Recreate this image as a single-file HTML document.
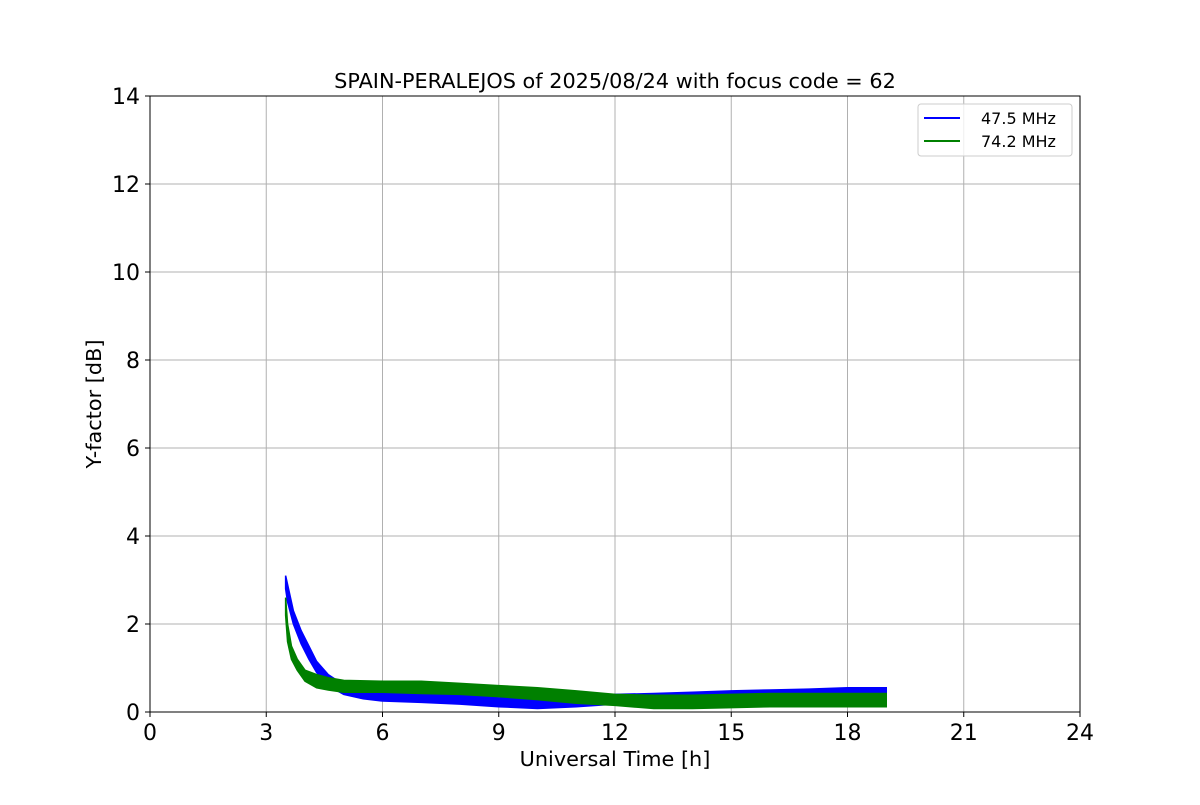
<!DOCTYPE html>
<html><head><meta charset="utf-8"><style>
body{margin:0;background:#fff;}
text{font-family:"DejaVu Sans","Liberation Sans",sans-serif;}
</style></head><body>
<svg id="chart" width="1200" height="800">
<rect width="1200" height="800" fill="#fff"/>
<g id="grid"></g><g id="series"></g><g id="axes"></g>
</svg>
<script>
const xTicks=[0,3,6,9,12,15,18,21,24];
const yTicks=[0,2,4,6,8,10,12,14];
const blueT=[3.5,3.55,3.7,3.9,4.1,4.3,4.6,5,5.5,6,7,8,9,10,11,12,13,14,15,16,17,18,19];
const blueLo=[2.8,2.5,2.0,1.55,1.2,0.9,0.6,0.4,0.3,0.25,0.22,0.18,0.12,0.08,0.12,0.18,0.2,0.22,0.24,0.26,0.28,0.3,0.3];
const blueHi=[3.1,2.9,2.3,1.85,1.5,1.15,0.85,0.62,0.5,0.45,0.42,0.38,0.32,0.3,0.32,0.4,0.42,0.45,0.48,0.5,0.52,0.55,0.55];
const greenT=[3.5,3.55,3.65,3.8,4.0,4.3,4.6,5,6,7,8,9,10,11,12,13,14,15,16,17,18,19];
const greenLo=[2.2,1.6,1.2,0.95,0.7,0.55,0.5,0.45,0.45,0.42,0.4,0.35,0.28,0.2,0.15,0.08,0.08,0.1,0.12,0.12,0.12,0.12];
const greenHi=[2.6,2.0,1.5,1.2,0.95,0.85,0.78,0.72,0.7,0.7,0.65,0.6,0.55,0.48,0.4,0.38,0.38,0.4,0.42,0.42,0.42,0.42];
const X=v=>150+v*930/24, Y=v=>712-v*616/14;
const NS='http://www.w3.org/2000/svg';
function mk(tag,attrs,parent,txt){const e=document.createElementNS(NS,tag);for(const k in attrs)e.setAttribute(k,attrs[k]);if(txt!==undefined)e.textContent=txt;parent.appendChild(e);return e;}
const grid=document.getElementById('grid'),ser=document.getElementById('series'),ax=document.getElementById('axes');
xTicks.forEach(t=>{
  const l=mk('line',{x1:X(t),x2:X(t),y1:96,y2:712,stroke:'#b0b0b0','stroke-width':1},grid);
  
  
  mk('line',{x1:X(t),x2:X(t),y1:712,y2:717,stroke:'#000'},ax);
  const tx=mk('text',{x:X(t),y:740,'text-anchor':'middle','font-size':22},ax,t);
  
  
});
yTicks.forEach(t=>{
  const l=mk('line',{x1:150,x2:1080,y1:Y(t),y2:Y(t),stroke:'#b0b0b0','stroke-width':1},grid);
  
  
  mk('line',{x1:145,x2:150,y1:Y(t),y2:Y(t),stroke:'#000'},ax);
  const tx=mk('text',{x:140,y:Y(t)+8,'text-anchor':'end','font-size':22},ax,t);
  
  
});
function band(T,lo,hi,color,name){
  let d='M'+T.map((t,i)=>X(t)+','+Y(hi[i])).join('L');
  for(let i=T.length-1;i>=0;i--)d+='L'+X(T[i])+','+Y(lo[i]);
  const p=mk('path',{d:d+'Z',fill:color,stroke:color,'stroke-width':1.5},ser);
  
  
}
band(blueT,blueLo,blueHi,'#0000ff','series-47-5-mhz');
band(greenT,greenLo,greenHi,'#008000','series-74-2-mhz');
const fr=mk('rect',{x:150,y:96,width:930,height:616,fill:'none',stroke:'#000','stroke-width':1},ax);


const ti=mk('text',{x:615,y:88,'text-anchor':'middle','font-size':20.8},ax,'SPAIN-PERALEJOS of 2025/08/24 with focus code = 62');


const xl=mk('text',{x:615,y:766,'text-anchor':'middle','font-size':20.8},ax,'Universal Time [h]');


const yl=mk('text',{x:101,y:404,'text-anchor':'middle','font-size':20.8,transform:'rotate(-90 101 404)'},ax,'Y-factor [dB]');


const lg=mk('g',{},ax);


mk('rect',{x:918,y:104,width:154,height:52,rx:3,fill:'#fff','fill-opacity':0.8,stroke:'#ccc'},lg);
[['#0000ff','47.5 MHz',118],['#008000','74.2 MHz',141]].forEach(([c,lab,y])=>{
  const g=mk('g',{},lg);
  
  
  mk('line',{x1:924,x2:960,y1:y,y2:y,stroke:c,'stroke-width':2},g);
  mk('text',{x:981,y:y+6,'font-size':16},g,lab);
});
</script>
</body></html>
